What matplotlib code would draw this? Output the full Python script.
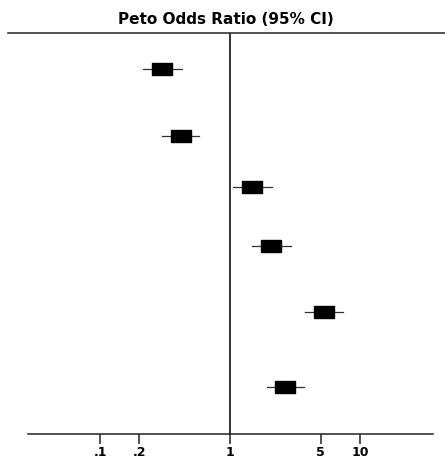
import matplotlib
matplotlib.use("Agg")
import matplotlib.pyplot as plt
from matplotlib.lines import Line2D

# odds ratios and 95% CI
odds = [0.30, 0.42, 1.48, 2.07, 5.28, 2.65]
ci_low = [0.214, 0.30, 1.05, 1.48, 3.78, 1.93]
ci_high = [0.427, 0.578, 2.10, 2.94, 7.40, 3.71]
rows = [69, 136, 187, 246, 312, 387]

tick_vals = [0.1, 0.2, 1, 5, 10]
tick_labels = [".1", ".2", "1", "5", "10"]

fig = plt.figure(figsize=(4.45, 4.62), dpi=100)
ax = fig.add_axes([28/445, 28/462, 405/445, 401/462])

ax.set_xscale("log")
ax.set_xlim(0.0279, 36.5)
ax.set_ylim(434, 33)

for lo, hi, r in zip(ci_low, ci_high, rows):
    ax.plot([lo, hi], [r, r], color="#333333", lw=0.9, zorder=2)

box = [(-1, -0.57), (1, -0.57), (1, 0.57), (-1, 0.57), (-1, -0.57)]
ax.plot(odds, rows, ls="none", marker=box, markersize=15.1,
        color="black", zorder=3)

ax.axvline(1, color="#222222", lw=1.3, zorder=1)

for s in ["top", "left", "right"]:
    ax.spines[s].set_visible(False)
ax.spines["bottom"].set_linewidth(1.1)
ax.spines["bottom"].set_color("#222222")
ax.set_yticks([])
ax.set_xticks(tick_vals)
ax.set_xticklabels(tick_labels, fontsize=9, fontweight="bold")
ax.xaxis.set_minor_locator(matplotlib.ticker.NullLocator())
ax.tick_params(axis="x", direction="out", length=7, width=1.1, pad=2,
               color="#222222")

# top rule and title
fig.add_artist(Line2D([8/445, 1.0], [1 - 33/462, 1 - 33/462],
                      color="#222222", lw=1.1))
fig.text(226/445, 1 - 19/462, "Peto Odds Ratio (95% CI)", ha="center",
         va="center", fontsize=11, fontweight="bold")

fig.savefig("out.png", dpi=100)
